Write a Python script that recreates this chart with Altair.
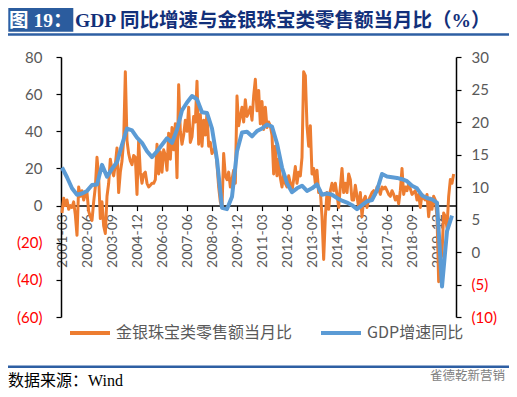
import altair as alt
import pandas as pd

# ---- data ----
tick_labels = ["2001-03", "2002-06", "2003-09", "2004-12", "2006-03", "2007-06",
               "2008-09", "2009-12", "2011-03", "2012-06", "2013-09", "2014-12",
               "2016-03", "2017-06", "2018-09", "2019-12"]

# monthly, from 2001-03 (left axis, %)
jewelry = [
    -4, 4, 0, 3, -2, 0, -1, 2, -5, -16, 10, 5,
    8, 3, 6, 7, -3, -6, -8, 2, 10, 26, 15, -7,
    2, -11, -15, 5, 12, 25, 19, 16, 22, 31, 7, 18,
    24, 35, 72, 35, 28, 24, 22, 27, 26, 6, 35, 18,
    12, 17, 18, 12, 10, 11, 12, 12, 14, 33, 17, 29,
    18, 30, 27, 19, 39, 25, 42, 30, 44, 15, 65, 40,
    33, 38, 46, 40, 53, 34, 37, 48, 45, 67, 33, 49,
    32, 46, 38, 50, 32, 34, 28, 30, 31, 22, 10, 2,
    -1, 28, 16, 14, 18, 10, 14, 19, 12, 59, 43, 48,
    53, 45, 57, 48, 50, 53, 46, 59, 68, 51, 62, 44,
    56, 41, 53, 42, 45, 43, 38, 17, 32, 16, 25, 15,
    10, 17, 12, 10, 16, 12, 8, 14, 21, 12, 18, 16,
    26, 72, 70, 43, 32, 43, 17, 20, 12, 19, 7, 8,
    -6, -29, -6, 7, -2, 8, 12, 8, 12, 6, -1, 10,
    20, 7, 12, 7, 17, 14, 3, 3, 11, 5, -1, 7,
    -6, 3, 5, -1, 3, 5, 7, 8, 6, 10, 9, 6,
    10, 9, 10, 8, 6, 5, 8, 6, 3, 5, 1, 8,
    20, 6, 10, 8, 12, 9, 6, 7, 8, 3, 6, -1,
    6, 4, 3, 6, -6, 4, -2, 5, 3, -6, -41, -30,
    -26, -4, -6, -12, 5, 14, 12, 17,
]

# quarterly, from 2001-03 (right axis, %)
gdp = [
    13.0, 11.5, 9.8, 8.8, 9.0, 9.4, 10.3, 10.4, 13.4, 11.6,
    12.8, 13.8, 16.5, 19.0, 18.7, 17.6, 16.8, 15.5, 14.6, 15.5,
    16.5, 17.5, 16.8, 18.8, 21.8, 23.0, 24.0, 23.5, 21.5, 21.4,
    19.0, 14.2, 6.8, 6.6, 8.5, 15.5, 18.4, 18.5, 17.8, 18.6,
    19.0, 19.6, 19.3, 16.7, 13.0, 10.6, 9.2, 9.8, 10.2, 9.4,
    9.8, 10.4, 8.8, 9.0, 8.8, 8.3, 7.9, 7.6, 7.2, 6.6,
    7.2, 7.8, 8.0, 9.5, 12.0, 11.6, 11.5, 11.4, 11.2, 10.9,
    10.2, 9.8, 8.7, 8.3, 8.1, 7.6, -5.3, 3.2, 5.6,
]

series_names = ["金银珠宝类零售额当月比", "GDP增速同比"]
series_colors = ["#ED7D31", "#5B9BD5"]
left_ticks = [-60, -40, -20, 0, 20, 40, 60, 80]
right_ticks = [-10, -5, 0, 5, 10, 15, 20, 25, 30]

title_tag = "图 19："
title_text = "GDP 同比增速与金银珠宝类零售额当月比（%）"
source_text = "数据来源：Wind"
watermark_text = "雀德乾新营销"

df_j = pd.DataFrame({"m": list(range(len(jewelry))), "v": jewelry, "s": series_names[0]})
df_g = pd.DataFrame({"m": [3 * i for i in range(len(gdp))], "v": gdp, "s": series_names[1]})

W, H = 395, 260
GREY = "#595959"
labels_js = "[" + ",".join("'" + s + "'" for s in tick_labels) + "]"
paren_expr = "datum.value < 0 ? '(' + abs(datum.value) + ')' : datum.value + ''"
red_cond = {"condition": {"test": "datum.value < 0", "value": "#FF0000"}, "value": GREY}

xscale = alt.Scale(domain=[-0.6, 236.4], nice=False, zero=False)
xaxis = alt.Axis(values=[15 * i for i in range(len(tick_labels))],
                 labelExpr=labels_js + "[round(datum.value/15)]",
                 labelAngle=-90, labelFontSize=14, labelColor=GREY, labelFont="Lato",
                 labelPadding=3, tickSize=5, tickColor="black", tickWidth=1.2,
                 domainColor="black", domainWidth=1.5, grid=False, title=None,
                 offset=-(H * 60 / 140), labelOverlap=False, labelFlush=False,
                 labelSeparation=0)

color = alt.Color("s:N", scale=alt.Scale(domain=series_names, range=series_colors),
                  legend=alt.Legend(orient="none", legendX=7, legendY=254, direction="horizontal",
                                    title=None, symbolType="stroke", symbolSize=1600,
                                    symbolStrokeWidth=4, labelFontSize=16, labelColor=GREY,
                                    labelFont="Noto Sans CJK SC", labelLimit=400,
                                    columnPadding=20, labelOffset=4, padding=0))

orange = alt.Chart(df_j).mark_line(strokeWidth=3, strokeJoin="round").encode(
    x=alt.X("m:Q", scale=xscale, axis=xaxis),
    y=alt.Y("v:Q", scale=alt.Scale(domain=[-60, 80], nice=False, zero=False),
            axis=alt.Axis(orient="left", values=left_ticks, labelExpr=paren_expr,
                          labelColor=red_cond, labelFontSize=15, labelFont="Lato",
                          labelPadding=14, tickSize=5, tickColor="black", tickWidth=1.2,
                          domainColor="black", domainWidth=1.5, grid=False, title=None)),
    color=color,
)

blue = alt.Chart(df_g).mark_line(strokeWidth=4, strokeJoin="round").encode(
    x=alt.X("m:Q", scale=xscale, axis=xaxis),
    y=alt.Y("v:Q", scale=alt.Scale(domain=[-10, 30], nice=False, zero=False),
            axis=alt.Axis(orient="right", values=right_ticks, labelExpr=paren_expr,
                          labelColor=red_cond, labelFontSize=15, labelFont="Lato",
                          labelPadding=10, tickSize=5, tickColor="black", tickWidth=1.2,
                          domainColor="black", domainWidth=1.5, grid=False, title=None)),
    color=color,
)

one = pd.DataFrame({"k": [0]})

tag_box = alt.Chart(one).mark_rect(color="#2B5C9E").encode(
    x=alt.value(-52.7), x2=alt.value(12.3), y=alt.value(-51), y2=alt.value(-25.3))
tag_txt = alt.Chart(one).mark_text(text=title_tag, color="white", fontSize=19.5, fontWeight="bold",
                                   font="Liberation Serif, Noto Sans CJK SC", align="center",
                                   baseline="alphabetic").encode(
    x=alt.value(-20.2), y=alt.value(-30.5))
ttl_txt = alt.Chart(one).mark_text(text=title_text, color="#12307A", fontSize=19.5, fontWeight="bold",
                                   font="Liberation Serif, Noto Sans CJK SC", align="left",
                                   baseline="alphabetic").encode(
    x=alt.value(14), y=alt.value(-30.5))
top_rule = alt.Chart(one).mark_rule(color="#2E5FA3", strokeWidth=2.5).encode(
    x=alt.value(-53), x2=alt.value(449), y=alt.value(-22.5))
bot_rule = alt.Chart(one).mark_rule(color="#2E5FA3", strokeWidth=2.5).encode(
    x=alt.value(-53), x2=alt.value(448), y=alt.value(309.7))
src_txt = alt.Chart(one).mark_text(text=source_text, color="black", fontSize=16,
                                   font="Liberation Serif, Noto Sans CJK SC", align="left",
                                   baseline="alphabetic").encode(
    x=alt.value(-53), y=alt.value(329))
wm_txt = alt.Chart(one).mark_text(text=watermark_text, color="#7f7f7f", fontSize=12.5,
                                  font="Noto Sans CJK SC", align="left",
                                  baseline="alphabetic").encode(
    x=alt.value(369), y=alt.value(323))

chart = alt.layer(orange, blue, tag_box, tag_txt, ttl_txt, top_rule, bot_rule, src_txt, wm_txt).resolve_scale(
    y="independent"
).properties(
    width=W, height=H,
    autosize=alt.AutoSizeParams(type="none"),
    padding={"left": 53, "top": 49, "right": 53, "bottom": 72},
    background="white",
).configure_view(stroke=None).configure_axisX(labelOverlap=False)

chart.save("out.html", embed_options={"renderer": "svg", "actions": False})
